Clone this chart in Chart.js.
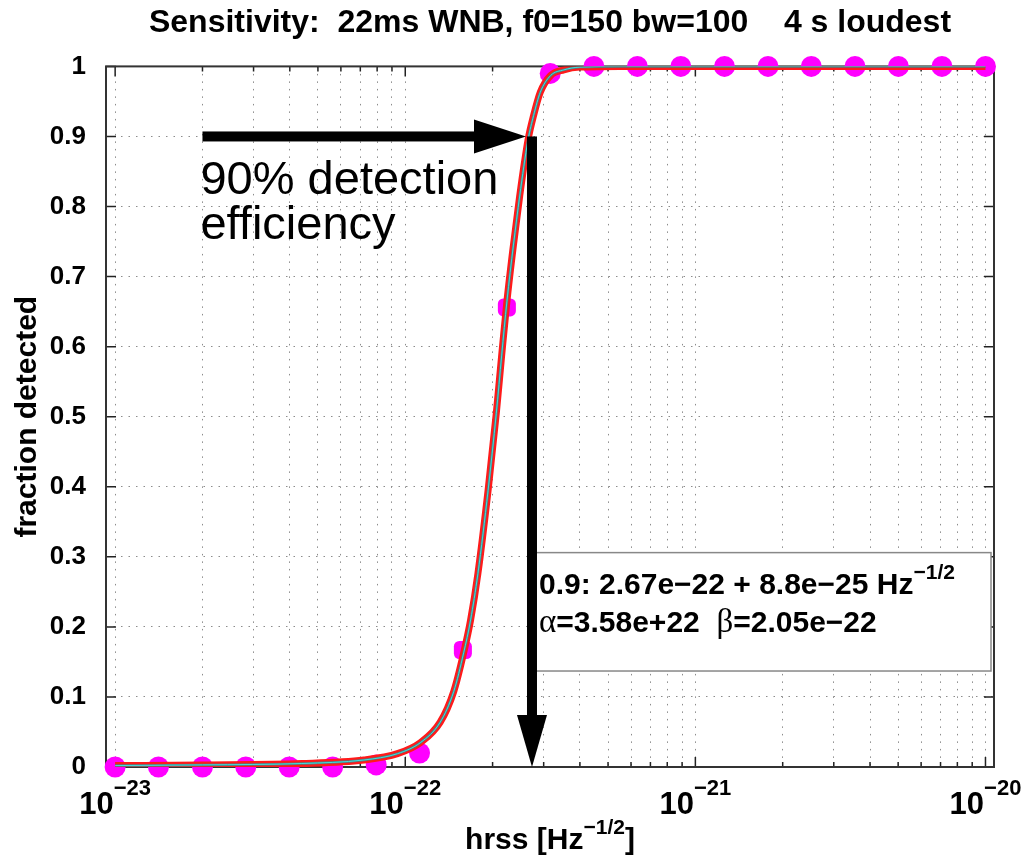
<!DOCTYPE html>
<html>
<head>
<meta charset="utf-8">
<script src="https://cdn.jsdelivr.net/npm/chart.js@4.4.1/dist/chart.umd.min.js"></script>
<style>
  html, body { margin: 0; padding: 0; background: #fff; }
  #wrap { width: 1026px; height: 858px; }
</style>
</head>
<body>
<div id="wrap"><canvas id="effChart" width="1026" height="858"></canvas></div>
<script>
// Injected hrss values and measured detection fraction
const hrssPoints = [1e-23, 1.41e-23, 2e-23, 2.82e-23, 3.98e-23, 5.62e-23, 7.94e-23, 1.12e-22, 1.58e-22, 2.24e-22,
    3.16e-22, 4.47e-22, 6.31e-22, 8.91e-22, 1.26e-21, 1.78e-21, 2.51e-21, 3.55e-21, 5.01e-21, 7.08e-21, 1e-20];
const fracDetected = [0, 0, 0, 0, 0, 0, 0.003, 0.02, 0.167, 0.656,
    0.99, 1, 1, 1, 1, 1, 1, 1, 1, 1, 1];

// Sigmoid fit
const fitHrss = [1e-23, 2e-23, 4.4e-23, 7.2e-23, 9.4e-23, 1.13e-22, 1.32e-22, 1.47e-22, 1.59e-22, 1.68e-22,
    1.78e-22, 1.93e-22, 2.06e-22, 2.15e-22, 2.24e-22, 2.36e-22, 2.48e-22, 2.65e-22, 2.77e-22, 2.92e-22,
    3.17e-22, 3.52e-22, 4e-22, 5.5e-22, 1e-21, 1e-20];
const fitFrac = [0.002, 0.003, 0.005, 0.01, 0.019, 0.035, 0.064, 0.108, 0.163, 0.21,
    0.276, 0.395, 0.505, 0.588, 0.664, 0.745, 0.815, 0.895, 0.93, 0.963,
    0.987, 0.995, 0.999, 1, 1, 1];

// Axes
const yTicks = [0, 0.1, 0.2, 0.3, 0.4, 0.5, 0.6, 0.7, 0.8, 0.9, 1];
const yTickLabels = ['0', '0.1', '0.2', '0.3', '0.4', '0.5', '0.6', '0.7', '0.8', '0.9', '1'];
const xDecades = [1e-23, 1e-22, 1e-21, 1e-20];
const xDecadeExps = ['\u221223', '\u221222', '\u221221', '\u221220'];
const xMin = 9.3e-24, xMax = 1.07e-20;

// 90% efficiency annotation
const fit90 = 2.67e-22;
const arrowStart = 2e-23;
const boxTop = 0.306, boxBottom = 0.137;
const fitText1 = '0.9: 2.67e\u221222 + 8.8e\u221225 Hz';
const fitText2 = ['=3.58e+22  ', '=2.05e\u221222'];

const SANS = '"Liberation Sans", Arial, Helvetica, sans-serif';
const SERIF = '"Liberation Serif", "Times New Roman", serif';

function drawParts(ctx, parts, x, y, align) {
    let total = 0;
    parts.forEach(p => { ctx.font = p.font; p.w = ctx.measureText(p.t).width; total += p.w; });
    let cx = align === 'center' ? x - total / 2 : x;
    ctx.textAlign = 'left';
    ctx.textBaseline = 'alphabetic';
    ctx.fillStyle = '#000';
    parts.forEach(p => {
        ctx.font = p.font;
        ctx.fillText(p.t, cx, y + (p.dy || 0));
        cx += p.w;
    });
}

// Box, inward ticks (under the markers)
const framePlugin = {
    id: 'frame',
    beforeDatasetsDraw(chart) {
        const { ctx, chartArea: a, scales: { x, y } } = chart;
        ctx.save();
        ctx.strokeStyle = '#222';
        ctx.lineWidth = 1.5;
        ctx.beginPath();
        x.ticks.forEach(t => {
            const px = x.getPixelForValue(t.value);
            const len = t.major ? 10 : 5;
            ctx.moveTo(px, a.bottom); ctx.lineTo(px, a.bottom - len);
            ctx.moveTo(px, a.top); ctx.lineTo(px, a.top + len);
        });
        y.ticks.forEach(t => {
            const py = y.getPixelForValue(t.value);
            ctx.moveTo(a.left, py); ctx.lineTo(a.left + 10, py);
            ctx.moveTo(a.right, py); ctx.lineTo(a.right - 10, py);
        });
        ctx.stroke();
        ctx.strokeStyle = '#333';
        ctx.lineWidth = 2;
        ctx.strokeRect(a.left, a.top, a.right - a.left, a.bottom - a.top);

        // x tick labels 10^n
        xDecades.forEach((v, i) => {
            const px = x.getPixelForValue(v);
            drawParts(ctx, [
                { t: '10', font: 'bold 31px ' + SANS },
                { t: xDecadeExps[i], font: 'bold 22px ' + SANS, dy: -19 }
            ], px, a.bottom + 47, 'center');
        });
        // x axis title
        drawParts(ctx, [
            { t: 'hrss [Hz', font: 'bold 30px ' + SANS },
            { t: '\u22121/2', font: 'bold 21px ' + SANS, dy: -15 },
            { t: ']', font: 'bold 30px ' + SANS }
        ], (a.left + a.right) / 2, a.bottom + 82, 'center');
        ctx.restore();
    }
};

// Arrows and fit result box
const notePlugin = {
    id: 'notes',
    afterDatasetsDraw(chart) {
        const { ctx, chartArea: a, scales: { x, y } } = chart;
        const xa = x.getPixelForValue(fit90);
        const ya = y.getPixelForValue(0.9);
        const x0 = x.getPixelForValue(arrowStart);
        const y0 = y.getPixelForValue(0);
        ctx.save();

        // fit result box
        const bTop = y.getPixelForValue(boxTop), bBot = y.getPixelForValue(boxBottom);
        const bRight = a.right - 3;
        ctx.fillStyle = '#fff';
        ctx.fillRect(xa, bTop, bRight - xa, bBot - bTop);
        ctx.strokeStyle = '#888';
        ctx.lineWidth = 1.5;
        ctx.strokeRect(xa, bTop, bRight - xa, bBot - bTop);
        drawParts(ctx, [
            { t: fitText1, font: 'bold 30px ' + SANS },
            { t: '\u22121/2', font: 'bold 21px ' + SANS, dy: -15 }
        ], xa + 10, bTop + 41, 'left');
        drawParts(ctx, [
            { t: '\u03b1', font: '33px ' + SERIF },
            { t: fitText2[0], font: 'bold 30px ' + SANS },
            { t: '\u03b2', font: '33px ' + SERIF },
            { t: fitText2[1], font: 'bold 30px ' + SANS }
        ], xa + 10, bTop + 79, 'left');

        ctx.fillStyle = '#000';
        // horizontal arrow
        const hx = xa - 3;
        ctx.fillRect(x0, ya - 5, hx - 50 - x0, 10);
        ctx.beginPath();
        ctx.moveTo(hx - 52, ya - 17);
        ctx.lineTo(hx, ya);
        ctx.lineTo(hx - 52, ya + 17);
        ctx.closePath();
        ctx.fill();
        // vertical arrow
        const vx = xa + 3;
        ctx.fillRect(vx - 5, ya, 10, y0 - 50 - ya);
        ctx.beginPath();
        ctx.moveTo(vx - 15, y0 - 52);
        ctx.lineTo(vx, y0);
        ctx.lineTo(vx + 15, y0 - 52);
        ctx.closePath();
        ctx.fill();

        // label
        ctx.font = '47px ' + SANS;
        ctx.textAlign = 'left';
        ctx.textBaseline = 'alphabetic';
        ctx.fillText('90% detection', x0 - 2, ya + 58);
        ctx.fillText('efficiency', x0 - 2, ya + 103);
        ctx.restore();
    }
};

const toXY = (xs, ys) => xs.map((v, i) => ({ x: v, y: ys[i] }));

new Chart(document.getElementById('effChart').getContext('2d'), {
    type: 'scatter',
    data: {
        datasets: [{
            data: toXY(fitHrss, fitFrac),
            showLine: true,
            borderColor: '#3fe0e0',
            borderWidth: 1,
            pointRadius: 0,
            cubicInterpolationMode: 'monotone'
        }, {
            data: toXY(fitHrss, fitFrac),
            showLine: true,
            borderColor: '#557a7a',
            borderWidth: 2.5,
            pointRadius: 0,
            cubicInterpolationMode: 'monotone'
        }, {
            data: toXY(fitHrss, fitFrac),
            showLine: true,
            borderColor: '#ff1a1a',
            borderWidth: 7,
            pointRadius: 0,
            cubicInterpolationMode: 'monotone'
        }, {
            data: toXY(hrssPoints, fracDetected),
            showLine: false,
            pointRadius: 10.5,
            pointStyle: ctx => {
                const v = ctx.raw ? ctx.raw.y : 0;
                return (v > 0.1 && v < 0.9) ? 'rectRounded' : 'circle';
            },
            backgroundColor: '#ff00ff',
            borderWidth: 0,
            clip: false
        }]
    },
    options: {
        responsive: false,
        animation: false,
        layout: { padding: { left: 0, right: 32, top: 0, bottom: 0 } },
        plugins: {
            legend: { display: false },
            tooltip: { enabled: false },
            title: {
                display: true,
                fullSize: false,
                text: 'Sensitivity:  22ms WNB, f0=150 bw=100    4 s loudest',
                color: '#000',
                font: { family: SANS, size: 32, weight: 'bold' },
                padding: { top: 4, bottom: 24 }
            }
        },
        scales: {
            x: {
                type: 'logarithmic',
                min: xMin,
                max: xMax,
                afterBuildTicks: scale => {
                    const ticks = [];
                    xDecades.forEach(d => {
                        for (let m = 1; m <= 9; m++) {
                            const v = m * d;
                            if (v >= xMin && v <= xMax) ticks.push({ value: v, major: m === 1 });
                        }
                    });
                    scale.ticks = ticks;
                },
                afterFit: scale => { scale.height = 91; },
                ticks: { display: false },
                grid: { color: '#8c8c8c', lineWidth: 1, drawTicks: false },
                border: { display: false, dash: [1.5, 6] }
            },
            y: {
                min: 0,
                max: 1,
                afterBuildTicks: scale => { scale.ticks = yTicks.map(v => ({ value: v })); },
                afterFit: scale => { scale.width = 106; },
                ticks: {
                    color: '#000',
                    padding: 20,
                    font: { family: SANS, size: 26, weight: 'bold' },
                    callback: (v, i) => yTickLabels[i]
                },
                grid: { color: '#8c8c8c', lineWidth: 1, drawTicks: false },
                border: { display: false, dash: [1.5, 6] },
                title: {
                    display: true,
                    text: 'fraction detected',
                    color: '#000',
                    font: { family: SANS, size: 30, weight: 'bold' },
                    padding: { top: 10, bottom: 0 }
                }
            }
        }
    },
    plugins: [framePlugin, notePlugin]
});
</script>
</body>
</html>
